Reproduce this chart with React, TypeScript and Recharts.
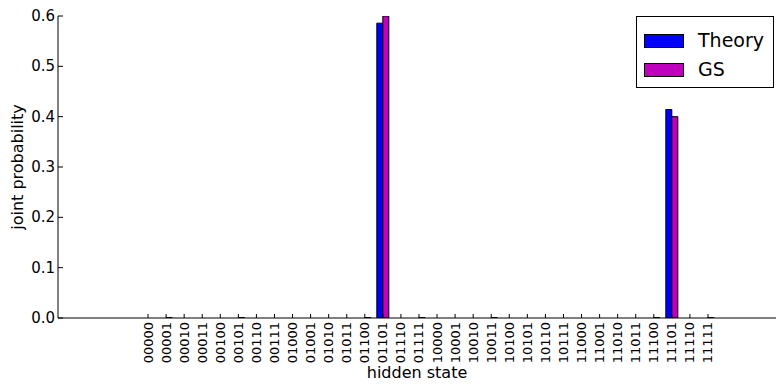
import * as React from "react";
import { BarChart, Bar, XAxis, YAxis } from "recharts";

const states = [
  "00000", "00001", "00010", "00011", "00100", "00101", "00110", "00111",
  "01000", "01001", "01010", "01011", "01100", "01101", "01110", "01111",
  "10000", "10001", "10010", "10011", "10100", "10101", "10110", "10111",
  "11000", "11001", "11010", "11011", "11100", "11101", "11110", "11111",
];

// exact values: 2 - sqrt(2) and sqrt(2) - 1
const theory = [
  0, 0, 0, 0, 0, 0, 0, 0,
  0, 0, 0, 0, 0, 0.5858, 0, 0,
  0, 0, 0, 0, 0, 0, 0, 0,
  0, 0, 0, 0, 0, 0.4142, 0, 0,
];

const gs = [
  0, 0.001, 0, 0, 0, 0.001, 0, 0,
  0, 0, 0, 0, 0.001, 0.6, 0, 0.001,
  0, 0, 0, 0.001, 0, 0, 0, 0,
  0, 0, 0, 0, 0.001, 0.4, 0, 0.001,
];

const yTicks = [0, 0.1, 0.2, 0.3, 0.4, 0.5, 0.6];

const BLUE = "#0000ff";
const MAGENTA = "#bf00bf";
const FONT = "'DejaVu Sans', sans-serif";

const data = states.map((s, i) => ({ state: s, Theory: theory[i], GS: gs[i] }));

// matplotlib classic look: ticks point into the plot
const BottomTick = (props: any) => {
  const { x, y, payload } = props;
  return (
    <g>
      <line x1={x} x2={x} y1={y - 4} y2={y - 8} stroke="#000" />
      <text
        x={x}
        y={y}
        transform={`rotate(-90, ${x}, ${y})`}
        textAnchor="end"
        dominantBaseline="central"
        fontSize={13}
        fontFamily={FONT}
        fill="#000"
      >
        {payload.value}
      </text>
    </g>
  );
};

const TopTick = (props: any) => {
  const { x, y } = props;
  return <line x1={x} x2={x} y1={y} y2={y + 4} stroke="#000" />;
};

const LeftTick = (props: any) => {
  const { x, y, payload } = props;
  return (
    <g>
      <line x1={x + 3} x2={x + 8} y1={y} y2={y} stroke="#000" />
      <text
        x={x}
        y={y}
        textAnchor="end"
        dominantBaseline="central"
        fontSize={15}
        fontFamily={FONT}
        fill="#000"
      >
        {Number(payload.value).toFixed(1)}
      </text>
    </g>
  );
};

const LegendBox = () => (
  <div
    style={{
      position: "absolute",
      left: 636,
      top: 16,
      width: 136,
      height: 70,
      border: "1px solid #000",
      background: "#fff",
      fontFamily: FONT,
      fontSize: 19,
    }}
  >
    {[
      { name: "Theory", color: BLUE, top: 17 },
      { name: "GS", color: MAGENTA, top: 46 },
    ].map((e) => (
      <div key={e.name}>
        <div
          style={{
            position: "absolute",
            left: 7,
            top: e.top,
            width: 38,
            height: 12,
            background: e.color,
            border: "1px solid #000",
          }}
        />
        <div
          style={{
            position: "absolute",
            left: 61,
            top: e.top - 6,
            lineHeight: "24px",
            color: "#000",
          }}
        >
          {e.name}
        </div>
      </div>
    ))}
  </div>
);

export default function App() {
  return (
    <div style={{ position: "absolute", left: 0, top: 0, width: 776, height: 385, background: "#fff" }}>
      <BarChart
        width={776}
        height={385}
        data={data}
        margin={{ top: 16, right: 0, bottom: 0, left: 0 }}
        barGap={0}
        barCategoryGap={0}
      >
        <XAxis
          dataKey="state"
          interval={0}
          height={67}
          padding={{ left: 81, right: 59 }}
          axisLine={{ stroke: "#000" }}
          tickLine={false}
          tickSize={0}
          tickMargin={4}
          tick={<BottomTick />}
          label={{
            value: "hidden state",
            position: "insideBottom",
            offset: 7,
            fontSize: 16,
            fontFamily: FONT,
            fill: "#000",
          }}
        />
        <XAxis
          xAxisId="top"
          orientation="top"
          dataKey="state"
          interval={0}
          height={0}
          padding={{ left: 81, right: 59 }}
          axisLine={{ stroke: "#000" }}
          tickLine={false}
          tickSize={0}
          tickMargin={0}
          tick={<TopTick />}
        />
        <YAxis
          width={58}
          domain={[0, 0.6]}
          ticks={yTicks}
          allowDataOverflow
          axisLine={{ stroke: "#000" }}
          tickLine={false}
          tickSize={0}
          tickMargin={3}
          tick={<LeftTick />}
          label={{
            value: "joint probability",
            angle: -90,
            position: "insideLeft",
            offset: 17,
            style: { textAnchor: "middle" },
            fontSize: 16,
            fontFamily: FONT,
            fill: "#000",
          }}
        />
        <Bar dataKey="Theory" fill={BLUE} stroke="#000" strokeWidth={1} barSize={6} isAnimationActive={false} />
        <Bar dataKey="GS" fill={MAGENTA} stroke="#000" strokeWidth={1} barSize={6} isAnimationActive={false} />
      </BarChart>
      <LegendBox />
    </div>
  );
}
